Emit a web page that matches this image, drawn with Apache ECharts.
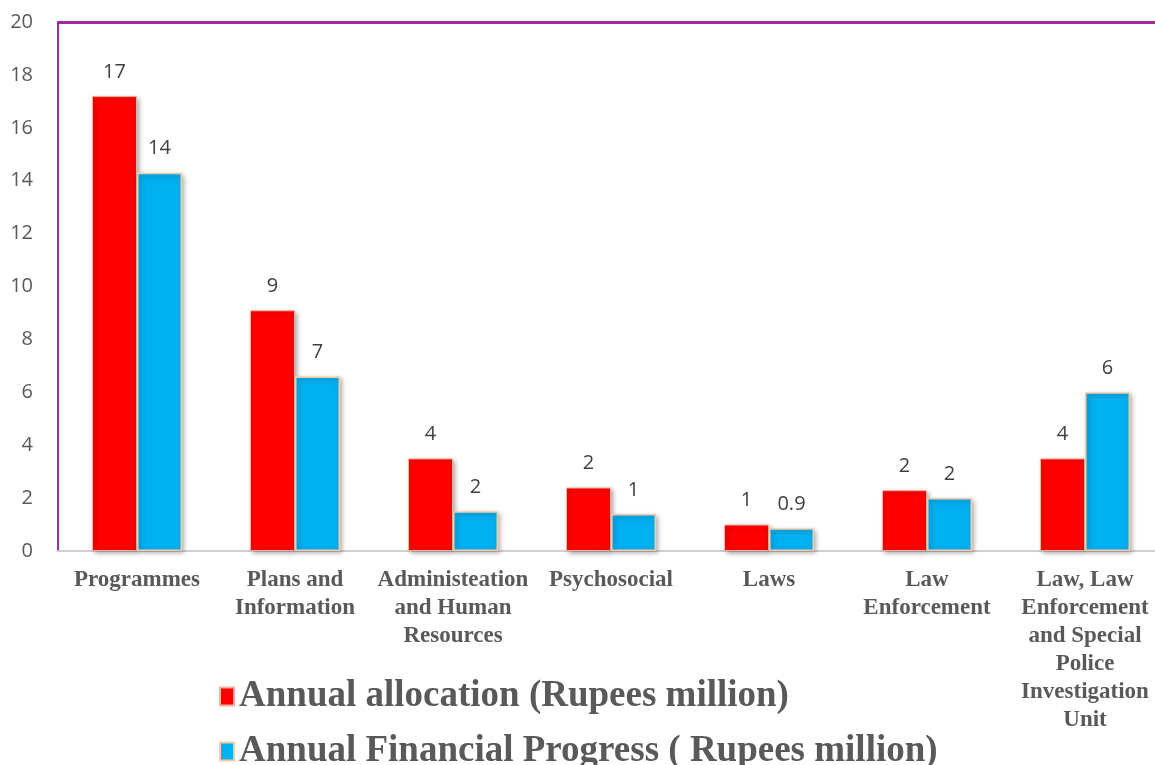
<!DOCTYPE html>
<html>
<head>
<meta charset="utf-8">
<script src="https://cdn.jsdelivr.net/npm/echarts@6/dist/echarts.min.js"></script>
<style>html,body{margin:0;padding:0;background:#fff}#c{width:1155px;height:765px}</style>
</head>
<body>
<div id="c"></div>
<script>
var categories = ['Programmes', 'Plans and\nInformation', 'Administeation\nand Human\nResources', 'Psychosocial', 'Laws', 'Law\nEnforcement', 'Law, Law\nEnforcement\nand Special\nPolice\nInvestigation\nUnit'];
var seriesNames = ['Annual allocation (Rupees million)', 'Annual Financial Progress ( Rupees million)'];
var allocation = [17.2, 9.1, 3.5, 2.4, 1.0, 2.3, 3.5];
var progress = [14.3, 6.6, 1.5, 1.4, 0.86, 2.0, 6.0];
var allocationLabels = ['17', '9', '4', '2', '1', '2', '4'];
var progressLabels = ['14', '7', '2', '1', '0.9', '2', '6'];
var yTicks = [0, 2, 4, 6, 8, 10, 12, 14, 16, 18, 20];

var gridColors = yTicks.map(function (v, i) { return i === yTicks.length - 1 ? '#a02ca0' : 'rgba(0,0,0,0)'; });

var chart = echarts.init(document.getElementById('c'));
var labelStyle = { show: true, position: 'top', distance: 14, fontSize: 20, color: '#404040', fontFamily: 'Open Sans, Liberation Sans, sans-serif' };
var legendText = { fontFamily: 'Liberation Serif, Times New Roman, serif', fontWeight: 'bold', fontSize: 37, color: '#595959' };
chart.setOption({
  animation: false,
  grid: { left: 58, top: 22, width: 1106, bottom: 214, containLabel: false, outerBoundsMode: 'none' },
  legend: [
    { data: [seriesNames[0]], left: 214, top: 673, itemWidth: 14, itemHeight: 18, icon: 'rect', itemGap: 10, textStyle: legendText },
    { data: [seriesNames[1]], left: 214, top: 728, itemWidth: 14, itemHeight: 18, icon: 'rect', itemGap: 10, textStyle: legendText }
  ],
  xAxis: {
    type: 'category', data: categories,
    axisLine: { lineStyle: { color: '#d5cdd5', width: 2 } },
    axisTick: { show: false },
    axisLabel: { interval: 0, margin: 15, fontFamily: 'Liberation Serif, Times New Roman, serif', fontWeight: 'bold', fontSize: 23, lineHeight: 28, color: '#595959', align: 'center' }
  },
  yAxis: {
    type: 'value', min: yTicks[0], max: yTicks[yTicks.length - 1], interval: 2,
    axisLine: { show: true, lineStyle: { color: '#a02ca0', width: 2 } },
    axisTick: { show: false },
    splitLine: { show: true, lineStyle: { color: gridColors, width: 3 } },
    axisLabel: { margin: 25, fontSize: 20, color: '#595959', fontFamily: 'Open Sans, Liberation Sans, sans-serif' }
  },
  series: [
    {
      name: seriesNames[0], type: 'bar', data: allocation, barWidth: 45, barGap: '0%',
      itemStyle: { color: '#ff0000', borderColor: '#f0b0a0', borderWidth: 1, shadowBlur: 5, shadowColor: 'rgba(0,0,0,0.35)', shadowOffsetX: 2, shadowOffsetY: 2 },
      label: Object.assign({}, labelStyle, { formatter: function (p) { return allocationLabels[p.dataIndex]; } })
    },
    {
      name: seriesNames[1], type: 'bar', data: progress, barWidth: 45,
      itemStyle: { color: '#00b0f0', borderColor: '#f8cba8', borderWidth: 1.5, shadowBlur: 5, shadowColor: 'rgba(0,0,0,0.35)', shadowOffsetX: 2, shadowOffsetY: 2 },
      label: Object.assign({}, labelStyle, { formatter: function (p) { return progressLabels[p.dataIndex]; } })
    }
  ]
});
</script>
</body>
</html>
